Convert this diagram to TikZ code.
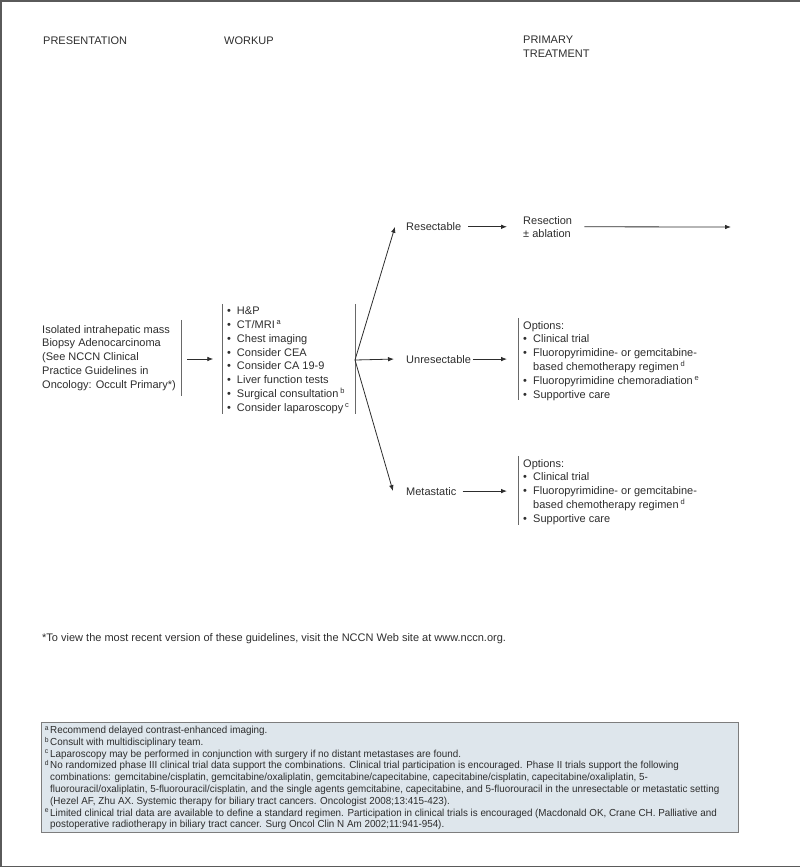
\documentclass[tikz,border=0pt]{standalone}
\usepackage{fontspec}
\setmainfont{Liberation Sans}
\newfontfamily\notefont[FakeStretch=0.965]{Liberation Sans}
\usetikzlibrary{arrows.meta,calc}
\definecolor{ink}{RGB}{45,45,45}
\definecolor{frameline}{RGB}{90,90,90}
\definecolor{bargrey}{RGB}{105,105,105}
\definecolor{notebg}{RGB}{222,230,236}
\definecolor{noteline}{RGB}{125,125,125}
\newcommand{\fnmark}[1]{\,\raisebox{3.8pt}{\fontsize{7.5}{8}\selectfont #1}}
\newcommand{\notemark}[1]{\makebox[5.3pt][l]{\raisebox{3.2pt}{\fontsize{7}{8}\selectfont #1}}}
\newcommand{\bul}{\makebox[10pt][l]{\textbullet}}
\newcommand{\ind}{\hspace*{10pt}}
\newcommand{\hang}{\hspace*{5.3pt}}
\newcommand{\drawbar}{\draw[bargrey,line width=0.9pt]}

\begin{document}
\begin{tikzpicture}[x=1pt,y=1pt,
  every node/.style={inner sep=0pt,anchor=base west,align=left,text=ink,font=\fontsize{11}{13.8}\selectfont},
  arr/.style={draw=ink,line width=0.8pt,-{Latex[length=6pt,width=4.6pt]}},
  notestyle/.style={font=\notefont\fontsize{10.2}{11.8}\selectfont}]
\useasboundingbox (0,0) rectangle (800,-868);
\draw[frameline,line width=1.5pt] (800,-0.75) -- (1.2,-0.75) -- (1.2,-866.5) -- (800,-866.5);

% multi-line nodes sit on the baseline of their last line
\node (presTitle) at (43,-44) {PRESENTATION};
\node (workTitle) at (224,-44) {WORKUP};
\node (treatTitle) at (523,-57.6) {PRIMARY\\TREATMENT};

\node (pres) at (42,-388.2) {Isolated intrahepatic mass\\Biopsy Adenocarcinoma\\(See NCCN Clinical\\Practice Guidelines in\\Oncology: Occult Primary*)};
\node (workup) at (226.8,-411.3) {\bul H\&P\\\bul CT/MRI\fnmark{a}\\\bul Chest imaging\\\bul Consider CEA\\\bul Consider CA 19-9\\\bul Liver function tests\\\bul Surgical consultation\fnmark{b}\\\bul Consider laparoscopy\fnmark{c}};
\node (resect) at (406,-230.7) {Resectable};
\node (unresect) at (406,-363) {Unresectable};
\node (meta) at (406,-495) {Metastatic};
\node (resection) at (523,-237.8) {Resection\\± ablation};
\node (optU) at (523,-398) {Options:\\\bul Clinical trial\\\bul Fluoropyrimidine- or gemcitabine-\\\ind based chemotherapy regimen\fnmark{d}\\\bul Fluoropyrimidine chemoradiation\fnmark{e}\\\bul Supportive care};
\node (optM) at (523,-522.2) {Options:\\\bul Clinical trial\\\bul Fluoropyrimidine- or gemcitabine-\\\ind based chemotherapy regimen\fnmark{d}\\\bul Supportive care};
\node (webnote) at (42,-641) {*To view the most recent version of these guidelines, visit the NCCN Web site at www.nccn.org.};

\coordinate (presR) at (181.5,-359);
\coordinate (workL) at (222.3,-359);
\coordinate (fan) at (355,-360);
\coordinate (next) at (731,-227);

\drawbar ($(pres.north -| presR)+(0,5)$) -- ($(pres.south -| presR)+(0,-5)$);
\drawbar ($(workup.north -| workL)+(0,3)$) -- (workup.south -| workL);
\drawbar ($(workup.north -| fan)+(0,3)$) -- (workup.south -| fan);
\drawbar ($(optU.north west)+(-5,3)$) -- ($(optU.south west)+(-5,0)$);
\drawbar ($(optM.north west)+(-5,3)$) -- ($(optM.south west)+(-5,0)$);

\draw[arr,shorten <=5.5pt,shorten >=9pt] (presR) -- (workL);
\draw[arr] (fan) -- ($(resect.west)+(-11,0)$);
\draw[arr] (fan) -- ($(unresect.west)+(-12,0)$);
\draw[arr] (fan) -- ($(meta.west)+(-13,0)$);
\draw[arr,shorten <=7pt,shorten >=16pt] (resect.east) -- (resect.east -| resection.west);
\draw[arr,shorten <=12pt] (resect.east -| resection.east) -- (next);
\draw[arr,shorten <=1.5pt,shorten >=16pt] (unresect.east) -- (unresect.east -| optU.west);
\draw[arr,shorten <=6pt,shorten >=16pt] (meta.east) -- (meta.east -| optM.west);

\node[draw=noteline,fill=notebg,line width=0.8pt,minimum width=697pt,minimum height=110pt,anchor=north west] (notes) at (41,-722) {};
\node[notestyle] (notetext) at (44.7,-827.9) {\notemark{a}Recommend delayed contrast-enhanced imaging.\\
\notemark{b}Consult with multidisciplinary team.\\
\notemark{c}Laparoscopy may be performed in conjunction with surgery if no distant metastases are found.\\
\notemark{d}No randomized phase III clinical trial data support the combinations. Clinical trial participation is encouraged. Phase II trials support the following\\
\hang combinations: gemcitabine/cisplatin, gemcitabine/oxaliplatin, gemcitabine/capecitabine, capecitabine/cisplatin, capecitabine/oxaliplatin, 5-\\
\hang fluorouracil/oxaliplatin, 5-fluorouracil/cisplatin, and the single agents gemcitabine, capecitabine, and 5-fluorouracil in the unresectable or metastatic setting\\
\hang (Hezel AF, Zhu AX. Systemic therapy for biliary tract cancers. Oncologist 2008;13:415-423).\\
\notemark{e}Limited clinical trial data are available to define a standard regimen. Participation in clinical trials is encouraged (Macdonald OK, Crane CH. Palliative and\\
\hang postoperative radiotherapy in biliary tract cancer. Surg Oncol Clin N Am 2002;11:941-954).};
\end{tikzpicture}
\end{document}
